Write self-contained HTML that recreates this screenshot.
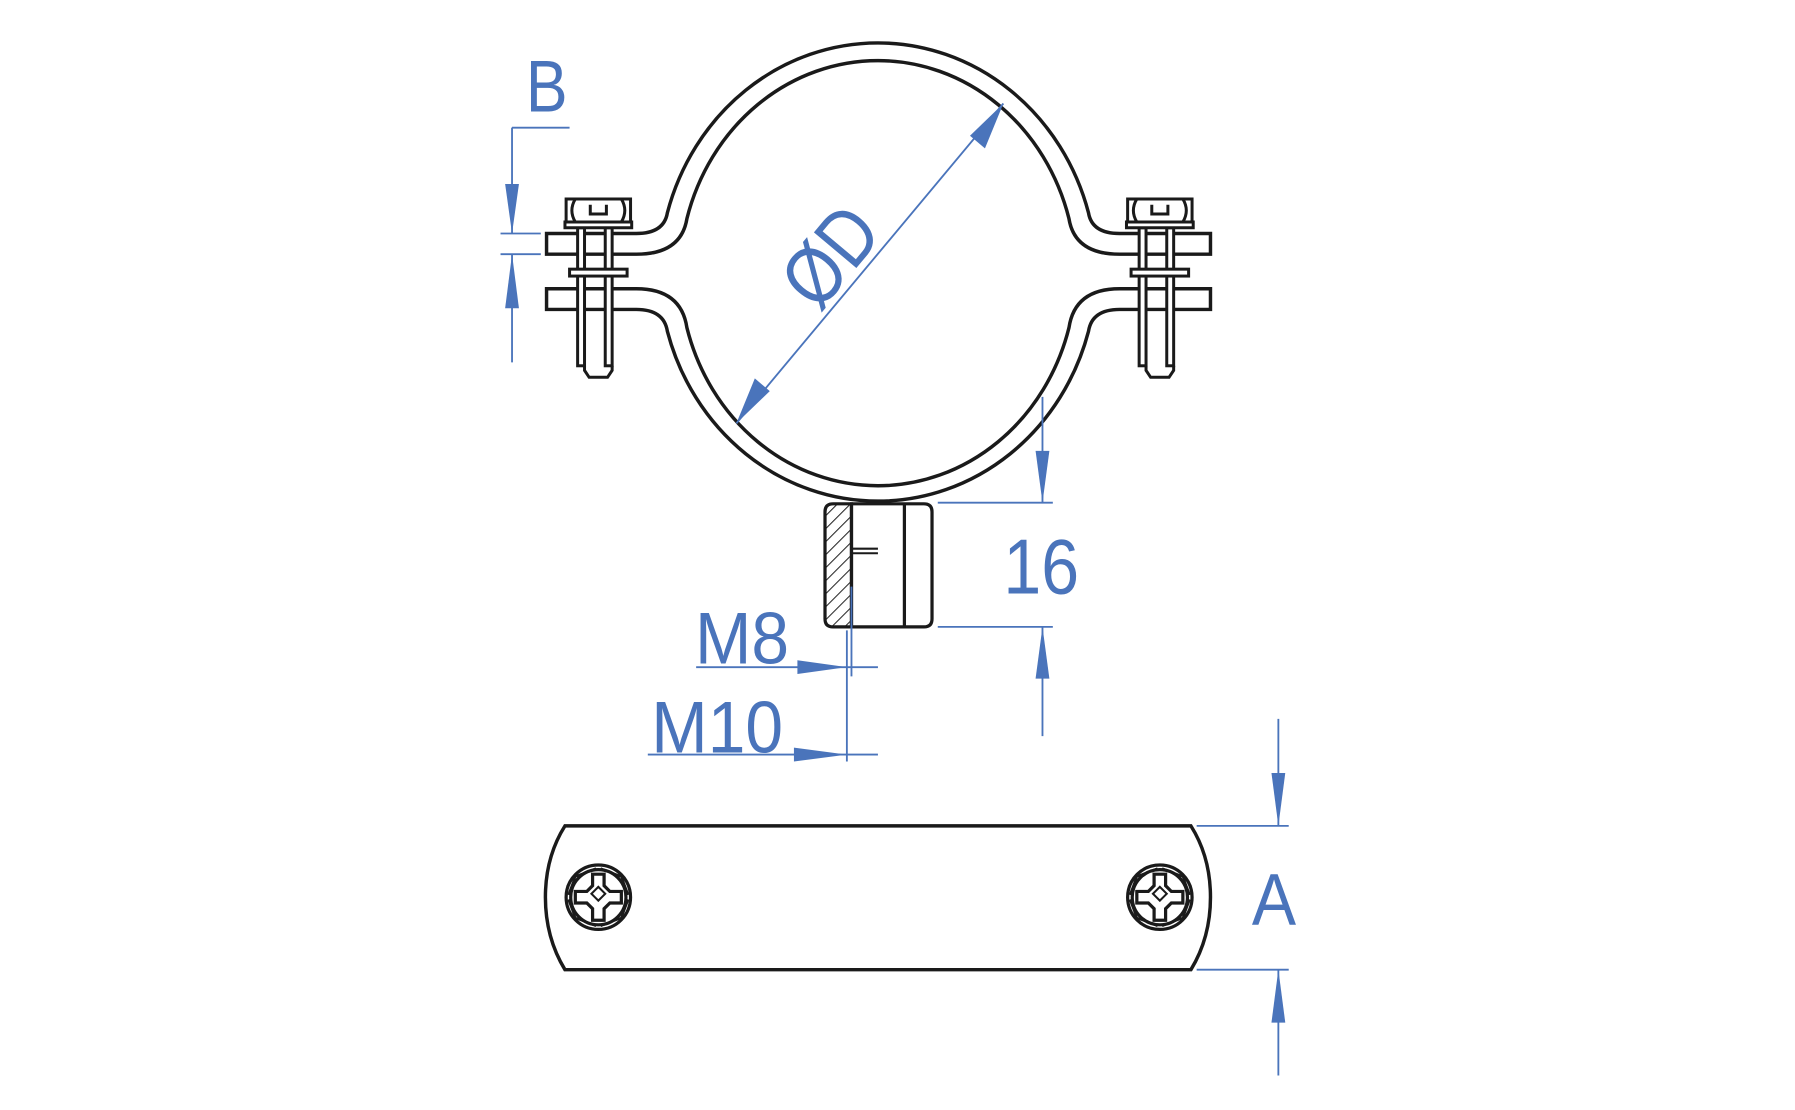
<!DOCTYPE html>
<html><head><meta charset="utf-8"><style>html,body{margin:0;padding:0;background:#fff}svg{display:block}</style></head>
<body>
<svg width="1795" height="1110" viewBox="0 0 1560 965" preserveAspectRatio="none" xmlns="http://www.w3.org/2000/svg">
<defs>
<pattern id="h" width="8" height="8" patternUnits="userSpaceOnUse" patternTransform="rotate(45)">
<line x1="0" y1="0" x2="0" y2="8" stroke="#222" stroke-width="1.8"/></pattern>
<g id="bolt" fill="#fff" stroke="#1a1a1a" stroke-width="2.6">
<rect x="-18" y="198" width="6" height="120"/>
<rect x="6" y="198" width="6" height="120"/>
<path d="M-12,318 L-12,322 L-8,328 L8,328 L12,322 L12,318" fill="none"/>
<rect x="-28" y="173" width="56" height="20"/>
<path d="M-20,173 q-6,10 0,20 M20,173 q6,10 0,20 M-7,178 v8 h14 v-8" fill="none"/>
<rect x="-29" y="193" width="58" height="5"/>
<rect x="-25" y="234" width="50" height="6"/>
</g>
<g id="screw" fill="none" stroke="#1a1a1a" stroke-width="2.8">
<circle r="28"/><circle r="24"/>
<path d="M-26,-2 L-20,-18 L-2,-25 M26,2 L20,18 L2,25 M-26,2 L-20,18 L-2,25 M26,-2 L20,-18 L2,-25" stroke-width="2"/>
<path d="M-5,-20 h10 v10 l5,5 h10 v10 h-10 l-5,5 v10 h-10 v-10 l-5,-5 h-10 v-10 h10 l5,-5 z"/>
<path d="M-3,-6 l3,-3 3,3 3,3 -3,3 -3,3 -3,-3 -3,-3 z" stroke-width="1.8"/>
</g>
</defs>

<g fill="none" stroke="#1a1a1a" stroke-width="3">
<path d="M475,203 L553,203 Q577,203 580,185 A190,202 0 0 1 946,185 Q949,203 973,203 L1052,203 L1052,221 L973,221 Q934,221 929,190 A172,186 0 0 0 597,190 Q592,221 553,221 L475,221 Z" fill="#fff"/>
<path d="M475,251 L553,251 Q592,251 597,285 A172,186 0 0 0 929,285 Q934,251 973,251 L1052,251 L1052,269 L973,269 Q949,269 946,288 A190,202 0 0 1 580,288 Q577,269 553,269 L475,269 Z" fill="#fff"/>
</g>
<use href="#bolt" x="520"/>
<use href="#bolt" x="1008"/>

<g stroke="#1a1a1a" stroke-width="2.8" fill="#fff">
<path d="M740,438 L803,438 Q810,438 810,445 L810,538 Q810,545 803,545 L740,545 Z"/>
<path d="M786,438 L786,545"/>
<path d="M724,438 L740,438 L740,545 L724,545 Q717,545 717,538 L717,445 Q717,438 724,438 Z" fill="url(#h)"/>
<path d="M740,477 L763,477 M740,481 L763,481" stroke-width="1.8"/>
</g>

<path d="M491,718 L1035,718 Q1052,745 1052,780 Q1052,815 1035,843 L491,843 Q474,815 474,780 Q474,745 491,718 Z" fill="#fff" stroke="#1a1a1a" stroke-width="3"/>
<use href="#screw" x="520" y="780"/>
<use href="#screw" x="1008" y="780"/>

<g stroke="#4a74bb" stroke-width="1.6" fill="none">
<path d="M445,111 H495 M445,111 V203 M435,203 H470 M435,221 H470 M445,221 V315"/>
<path d="M640,368 L872,90"/>
<path d="M906,345 V437 M815,437 H915 M815,545 H915 M906,545 V640"/>
<path d="M605,580 H763 M740,510 V588 M563,656 H763 M736,548 V662"/>
<path d="M1111,625 V718 M1040,718 H1120 M1040,843 H1120 M1111,843 V935"/>
</g>
<g fill="#4a74bb">
<path d="M445,203 L439,160 L451,160 Z"/>
<path d="M445,221 L439,268 L451,268 Z"/>
<path d="M872,90 L843,118 L856,129 Z"/>
<path d="M640,368 L669,340 L656,329 Z"/>
<path d="M906,437 L900,392 L912,392 Z"/>
<path d="M906,545 L900,590 L912,590 Z"/>
<path d="M736,580 L693,574 L693,586 Z"/>
<path d="M736,656 L690,650 L690,662 Z"/>
<path d="M1111,718 L1105,672 L1117,672 Z"/>
<path d="M1111,843 L1105,889 L1117,889 Z"/>
</g>
<g fill="#4a74bb" font-family="Liberation Sans, sans-serif">
<text font-size="64" transform="translate(457,97) scale(0.85,1)">B</text>
<text font-size="68" transform="translate(872,516) scale(0.87,1)">16</text>
<text font-size="64" transform="translate(604,577) scale(0.92,1)">M8</text>
<text font-size="64" transform="translate(566,654) scale(0.92,1)">M10</text>
<text font-size="64" transform="translate(1088,804) scale(0.9,1)">A</text>
<text font-size="70" text-anchor="middle" transform="translate(740,238) rotate(-50) scale(0.85,1)">ØD</text>
</g>
</svg>
</body></html>
